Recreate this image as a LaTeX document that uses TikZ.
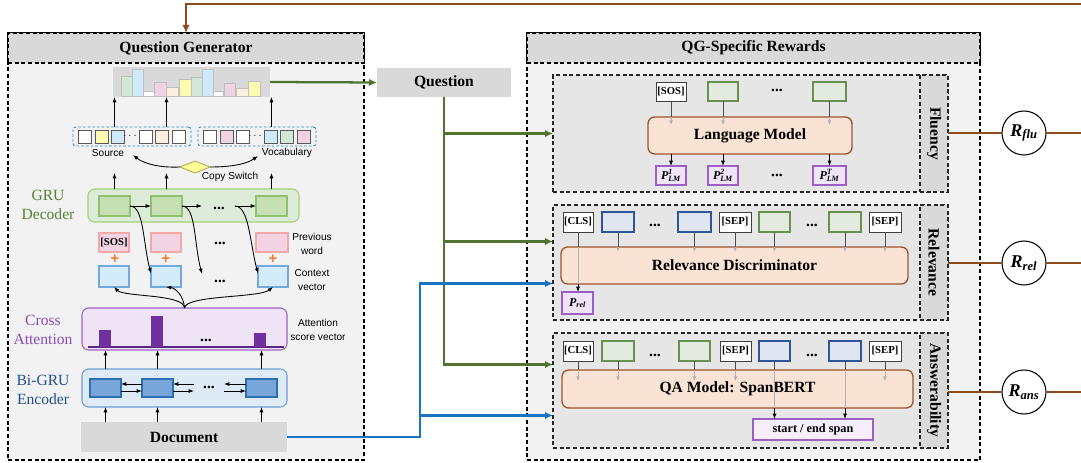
\documentclass[tikz,border=0pt]{standalone}
\usepackage{fontspec}
\usepackage{amsmath}
\setmainfont{Liberation Serif}
\newfontfamily\arialf{Liberation Sans}
\usetikzlibrary{arrows.meta,shapes.geometric,calc}
\definecolor{hdr}{HTML}{D9D9D9}
\definecolor{bodyg}{HTML}{F2F2F2}
\definecolor{subg}{HTML}{E6E6E6}
\definecolor{brownc}{HTML}{8E4B1E}
\definecolor{greenc}{HTML}{4F7331}
\definecolor{bluec}{HTML}{1A73C2}
\definecolor{dboxblue}{HTML}{2E86D1}
\definecolor{cellgray}{HTML}{595959}
\definecolor{cyell}{HTML}{FCF9B0}
\definecolor{cblue}{HTML}{CFE8FA}
\definecolor{cgreen}{HTML}{D2E7D5}
\definecolor{cpink}{HTML}{F0D3E3}
\definecolor{cpeach}{HTML}{FDEEE0}
\definecolor{gruf}{HTML}{DDEBD9}
\definecolor{gruc}{HTML}{A3D27A}
\definecolor{gcellf}{HTML}{C6E0B4}
\definecolor{gcellc}{HTML}{8FC16E}
\definecolor{pwf}{HTML}{F2D3E4}
\definecolor{pwc}{HTML}{F4A7A7}
\definecolor{cvf}{HTML}{D4EBFB}
\definecolor{cvc}{HTML}{72A9DA}
\definecolor{attf}{HTML}{EFE3F6}
\definecolor{attc}{HTML}{9C62C4}
\definecolor{attbar}{HTML}{7030A0}
\definecolor{encf}{HTML}{DEEBF7}
\definecolor{encc}{HTML}{6F9CD3}
\definecolor{ecellf}{HTML}{78A6DA}
\definecolor{ecellc}{HTML}{2E6EB5}
\definecolor{gtokf}{HTML}{E2EBDD}
\definecolor{gtokc}{HTML}{6A8F52}
\definecolor{btokf}{HTML}{DFE6F1}
\definecolor{btokc}{HTML}{2F5597}
\definecolor{purpf}{HTML}{F0E4F8}
\definecolor{purpc}{HTML}{9B5FC6}
\definecolor{modelf}{HTML}{F8E3D4}
\definecolor{modelc}{HTML}{A0522D}
\definecolor{copyf}{HTML}{FFFF99}
\definecolor{copyc}{HTML}{A6A64D}
\definecolor{grutxt}{HTML}{548235}
\definecolor{atttxt}{HTML}{8A4DBA}
\definecolor{enctxt}{HTML}{24508F}
\definecolor{plusc}{HTML}{ED7D31}
\newcommand\myfT{\fontsize{11.7}{13}\selectfont\bfseries}
\newcommand\myfL{\fontsize{11.7}{14.3}\selectfont}
\newcommand\myfS{\arialf\fontsize{7.6}{10}\selectfont}
\newcommand\myfK{\fontsize{8}{9}\selectfont\bfseries}
\newcommand\myP[1]{{\fontsize{9}{10}\selectfont\bfseries\itshape P$^{\text{\bfseries\itshape #1}}_{\text{\bfseries\itshape LM}}$}}
\newcommand\mybox[7]{\node[#6, minimum width={(#4-#2)*0.75pt}, minimum height={(#5-#3)*0.75pt}] (#1) at ({(#2+#4)/2},{(#3+#5)/2}) {#7};}
\newcommand\tokarr[3]{\draw[darkl] (#1.south) -- (#1.south |- #2.north); \draw[lightarr] (#1.south |- #2.north) -- ++(0,#3);}
\tikzset{
  every node/.style={inner sep=0pt, outer sep=0pt},
  outerbody/.style={draw=black, fill=bodyg, line width=0.8pt, dash pattern=on 3pt off 2pt},
  hdrbox/.style={outerbody, fill=hdr, font=\myfT},
  subbox/.style={draw=black!85, fill=subg, line width=0.8pt, dash pattern=on 3pt off 2pt},
  strip/.style={subbox, fill=hdr},
  graybox/.style={fill=hdr, font=\myfT},
  dbox/.style={draw=dboxblue, dash pattern=on 2pt off 1.5pt, rounded corners=2pt, line width=0.7pt},
  cell/.style={draw=cellgray, line width=0.7pt, minimum size=9.75pt},
  barl/.style={draw=black!25, line width=0.5pt},
  gcell/.style={draw=gcellc, fill=gcellf, line width=0.8pt},
  pw/.style={draw=pwc, fill=pwf, line width=0.8pt, font=\myfK},
  cv/.style={draw=cvc, fill=cvf, line width=0.8pt},
  ecell/.style={draw=ecellc, fill=ecellf, line width=0.8pt},
  tok/.style={draw=black!75, fill=white, line width=0.7pt, font=\myfK},
  gtok/.style={draw=gtokc, fill=gtokf, line width=0.8pt},
  btok/.style={draw=btokc, fill=btokf, line width=0.8pt},
  ptok/.style={draw=purpc, fill=purpf, line width=0.9pt},
  model/.style={draw=modelc, fill=modelf, rounded corners=5pt, line width=1pt, font=\myfT},
  arr/.style={-{Latex[length=4pt,width=3pt]}, black, line width=0.65pt},
  darkl/.style={draw=black!70, line width=0.65pt},
  lightarr/.style={draw=black!30, line width=0.65pt, -{Latex[length=3.5pt,width=3pt]}},
  lightl/.style={draw=black!30, line width=0.65pt},
  greenarr/.style={draw=greenc, line width=1.7pt, -{Latex[length=6pt,width=5.5pt]}},
  bluearr/.style={draw=bluec, line width=1.7pt, -{Latex[length=6pt,width=5.5pt]}},
  brownl/.style={draw=brownc, line width=1.8pt},
  dots/.style={font=\myfT},
  plus/.style={text=plusc, font=\arialf\bfseries\fontsize{11}{11}\selectfont},
  side/.style={rotate=-90, font=\myfT},
  rew/.style={circle, draw=black, fill=white, line width=0.8pt, minimum size=33pt, font=\fontsize{13.5}{14}\selectfont\bfseries\itshape},
}
\begin{document}
\begin{tikzpicture}[x=0.75pt,y=-0.75pt]
\useasboundingbox (0,0) rectangle (1081,463);
% ================= Question Generator =================
\mybox{qg}{8}{33}{364}{460}{outerbody}{}
\mybox{qgh}{8}{33}{364}{63}{hdrbox}{Question Generator}
% output distribution
\mybox{dist}{113}{67}{270}{97}{fill=hdr}{}
\foreach \a/\b/\t/\c in {121/132/76/cgreen,132/143/69/cblue,143/154/91/white,154/166/82/cpink,166/178/87/cpeach,179/191/79/cyell,191/202/77/cgreen,202/213/69/cblue,213/223/91/white,224/235/83/cpink,236/248/88/cpeach,248/260/81/cyell}
  \draw[barl, fill=\c] (\a,96) rectangle (\b,\t);
% source / vocabulary
\mybox{src}{73}{127}{191}{146}{dbox}{}
\mybox{voc}{198}{127}{316}{146}{dbox}{}
\foreach \a/\c [count=\i] in {78/white,95/cyell,111/cblue,139/white,155/cpeach,172/white}
  \node[cell, fill=\c] (s\i) at (\a+6.5,137) {};
\foreach \a/\c [count=\i] in {203/white,220/cpink,236/white,264/cblue,280/cgreen,297/cpink}
  \node[cell, fill=\c] (v\i) at (\a+6.5,137) {};
\node[font=\myfS] (sdots) at (131,136) {$\cdots$};
\node[font=\myfS] (vdots) at (256,136) {$\cdots$};
\node[font=\myfS] (srcl) at (108,153) {Source};
\node[font=\myfS] (vocl) at (287,153) {Vocabulary};
% copy switch
\node[diamond, draw=copyc, fill=copyf, line width=0.6pt, minimum width=22.5pt, minimum height=9pt, aspect=2.5] (cs) at (195,167) {};
\node[font=\myfS] (csl) at (230,177) {Copy Switch};
\coordinate (srcend) at (133,155);
\coordinate (vocend) at (258,156);
\draw[arr] (cs.west) .. controls +(-22,1) and +(10,8) .. (srcend);
\draw[arr] (cs.east) .. controls +(25,0) and +(-10,7) .. (vocend);
% GRU decoder
\mybox{gru}{88}{189}{299}{222}{draw=gruc, fill=gruf, rounded corners=5pt, line width=0.8pt}{}
\mybox{dc1}{99}{196}{130}{216}{gcell}{}
\mybox{dc2}{151}{196}{182}{216}{gcell}{}
\mybox{dc3}{256}{196}{287}{216}{gcell}{}
\node[dots] (gdots) at (219,208) {...};
\coordinate (gd1) at (202,206);
\coordinate (gd2) at (235,206);
\node[font=\myfL, text=grutxt, align=center] (grul) at (48,205) {GRU\\Decoder};
% previous word
\mybox{pw1}{99}{233}{129}{252}{pw}{[SOS]}
\mybox{pw2}{151}{233}{181}{252}{pw}{}
\mybox{pw3}{256}{233}{288}{252}{pw}{}
\node[dots] (pdots) at (220,243) {...};
\node[font=\myfS, align=center] (pwl) at (312,244) {Previous\\word};
\node[plus] (p1) at (115,259) {+};
\node[plus] (p2) at (166,259) {+};
\node[plus] (p3) at (273,259) {+};
% context vectors
\mybox{cv1}{99}{266}{129}{287}{cv}{}
\mybox{cv2}{151}{266}{181}{287}{cv}{}
\mybox{cv3}{258}{266}{288}{287}{cv}{}
\node[dots] (cdots) at (220,281) {...};
\coordinate (cd1) at (202,274);
\node[font=\myfS, align=center] (cvl) at (312,280) {Context\\vector};
% cross attention
\mybox{att}{82}{308}{287}{350}{draw=attc, fill=attf, rounded corners=5pt, line width=0.8pt}{}
\draw[attbar!80!black, line width=0.8pt] (88,347) -- (284,347);
\fill[attbar] (99,347) rectangle (111,330);
\fill[attbar] (151,347) rectangle (163,316);
\fill[attbar] (254,347) rectangle (266,333);
\node[dots] (adots) at (206,340) {...};
\node[font=\myfL, text=atttxt, align=center] (attl) at (43,330) {Cross\\Attention};
\node[font=\myfS, align=center] (attsl) at (318,330) {Attention\\score vector};
% encoder
\mybox{enc}{82}{369}{287}{407}{draw=encc, fill=encf, rounded corners=5pt, line width=0.8pt}{}
\mybox{ec1}{90}{379}{121}{397}{ecell}{}
\mybox{ec2}{142}{379}{173}{397}{ecell}{}
\mybox{ec3}{246}{379}{277}{397}{ecell}{}
\node[dots] (edots) at (209,387) {...};
\coordinate (ed1) at (194,388);
\coordinate (ed2) at (224,388);
\node[font=\myfL, text=enctxt, align=center] (encl) at (43,390) {Bi-GRU\\Encoder};
% document
\mybox{doc}{81}{422}{287}{452}{graybox}{Document}
% --- connectors inside QG
\foreach \c in {ec1,ec2,ec3} {
  \draw[arr] (doc.north -| \c) -- (enc.south -| \c);
  \draw[arr] (enc.north -| \c) -- (att.south -| \c);
}
\draw[arr] ($(ec2.west)+(0,-4)$) -- ($(ec1.east)+(0,-4)$);
\draw[arr] ($(ec1.east)+(0,3)$) -- ($(ec2.west)+(0,3)$);
\draw[arr] ($(ed1)+(0,-4)$) -- ($(ec2.east)+(0,-4)$);
\draw[arr] ($(ec2.east)+(0,3)$) -- ($(ed1)+(0,3)$);
\draw[arr] ($(ec3.west)+(0,-4)$) -- ($(ed2)+(0,-4)$);
\draw[arr] ($(ed2)+(0,3)$) -- ($(ec3.west)+(0,3)$);
% attention to context
\draw[arr] (att.north) .. controls +(0,-14) and +(10,10) .. (cv1.south);
\draw[arr] (att.north) .. controls +(-1,-13) and +(9,1) .. (cv2.south);
\draw[arr] (att.north) .. controls +(1,-13) and +(-14,11) .. (cv3.south);
% decoder
\draw[arr] (dc1.east) -- (dc2.west);
\draw[arr] (dc2.east) -- (gd1);
\draw[arr] (gd2) -- (dc3.west);
\draw[arr] (dc1.east) .. controls +(14,0) and +(-8,-30) .. ($(cv2.west)+(0,-3)$);
\draw[arr] (dc2.east) .. controls +(14,0) and +(-8,-30) .. (cd1);
\draw[arr] (gd2) .. controls +(14,0) and +(-8,-30) .. ($(cv3.west)+(0,-3)$);
\foreach \c in {dc1,dc2,dc3}
  \draw[arr] (gru.north -| \c) -- ++(0,-16);
\draw[arr] (src.north -| dc1) -- (dist.south -| dc1);
\draw[arr] (src.north -| dc2) -- (dist.south -| dc2);
\draw[arr] (voc.north -| dc3) -- (dist.south -| dc3);
% ================= Question =================
\mybox{q}{377}{68}{511}{97}{graybox}{Question}
% ================= QG-Specific Rewards =================
\mybox{qgs}{527}{33}{980}{460}{outerbody}{}
\mybox{qgsh}{527}{33}{980}{63}{hdrbox}{QG-Specific Rewards}
\mybox{flu}{553}{75}{948}{192}{subbox}{}
\mybox{fls}{920}{75}{948}{192}{strip}{}
\node[side] (flut) at (fls.center) {Fluency};
\mybox{rel}{553}{205}{948}{320}{subbox}{}
\mybox{rls}{920}{205}{948}{320}{strip}{}
\node[side] (relt) at (rls.center) {Relevance};
\mybox{ans}{553}{333}{948}{448}{subbox}{}
\mybox{anss}{920}{333}{948}{448}{strip}{}
\node[side] (anst) at (anss.center) {Answerability};
% fluency content
\mybox{lm}{648}{117}{852}{154}{model}{Language Model}
\mybox{fsos}{656}{82}{686}{101}{tok}{[SOS]}
\mybox{fg1}{708}{82}{738}{101}{gtok}{}
\mybox{fg2}{813}{82}{846}{101}{gtok}{}
\node[dots] (fdots1) at (777,90) {...};
\mybox{fp1}{656}{166}{686}{185}{ptok}{\myP{1}}
\mybox{fp2}{708}{166}{738}{185}{ptok}{\myP{2}}
\mybox{fp3}{813}{166}{846}{185}{ptok}{\myP{T}}
\node[dots] (fdots2) at (777,175) {...};
\foreach \t/\p in {fsos/fp1,fg1/fp2,fg2/fp3} {
  \tokarr{\t}{lm}{8}
  \draw[arr] (lm.south -| \t) -- (\p.north);
}
% relevance content
\mybox{rd}{561}{247}{908}{284}{model}{Relevance Discriminator}
\mybox{rc}{563}{212}{593}{232}{tok}{[CLS]}
\mybox{rb1}{602}{212}{634}{232}{btok}{}
\mybox{rb2}{678}{212}{711}{232}{btok}{}
\mybox{rs1}{719}{212}{751}{232}{tok}{[SEP]}
\mybox{rg1}{759}{212}{790}{232}{gtok}{}
\mybox{rg2}{829}{212}{861}{232}{gtok}{}
\mybox{rs2}{869}{212}{901}{232}{tok}{[SEP]}
\node[dots] (rdots1) at (655,225) {...};
\node[dots] (rdots2) at (812,225) {...};
\foreach \t in {rb1,rb2,rs1,rg1,rg2,rs2} { \tokarr{\t}{rd}{5} }
\mybox{prel}{562}{292}{593}{314}{ptok}{{\fontsize{9}{10}\selectfont\bfseries\itshape P$_{\text{\bfseries\itshape rel}}$}}
\draw[darkl] (rc.south) -- (rc.south |- rd.north);
\draw[lightl] (rc.south |- rd.north) -- (rc.south |- rd.south);
\draw[arr] (rc.south |- rd.south) -- (rc.south |- prel.north);
% answerability content
\mybox{qa}{562}{370}{913}{408}{model}{QA Model: SpanBERT}
\mybox{ac}{563}{341}{593}{361}{tok}{[CLS]}
\mybox{ag1}{602}{341}{634}{361}{gtok}{}
\mybox{ag2}{679}{341}{710}{361}{gtok}{}
\mybox{as1}{720}{341}{751}{361}{tok}{[SEP]}
\mybox{ab1}{759}{341}{790}{361}{btok}{}
\mybox{ab2}{829}{341}{861}{361}{btok}{}
\mybox{as2}{869}{341}{901}{361}{tok}{[SEP]}
\node[dots] (adots1) at (655,355) {...};
\node[dots] (adots2) at (812,355) {...};
\foreach \t in {ac,ag1,ag2,as1,as2} { \tokarr{\t}{qa}{11} }
\mybox{span}{753}{419}{873}{440}{ptok, fill=purpf!60!white, font=\fontsize{9.2}{10}\selectfont\bfseries}{start / end span}
\foreach \t in {ab1,ab2} {
  \draw[darkl] (\t.south) -- (\t.south |- qa.north);
  \draw[lightl] (\t.south |- qa.north) -- (\t.south |- qa.south);
  \draw[arr] (\t.south |- qa.south) -- (\t.south |- span.north);
}
% rewards
\node[rew] (rflu) at (1024,133) {R\textsubscript{flu}};
\node[rew] (rrel) at (1024,263) {R\textsubscript{rel}};
\node[rew] (rans) at (1024,392) {R\textsubscript{ans}};
\coordinate (re) at (1081,4);
\draw[brownl] (fls.east |- rflu) -- (rflu.west);
\draw[brownl] (rls.east |- rrel) -- (rrel.west);
\draw[brownl] (anss.east |- rans) -- (rans.west);
\draw[brownl] (rflu.east) -- (rflu.east -| re);
\draw[brownl] (rrel.east) -- (rrel.east -| re);
\draw[brownl] (rans.east) -- (rans.east -| re);
\draw[brownl, -{Latex[length=6pt,width=5.5pt]}] (re) -| (qgh.north);
% green (question) connectors
\draw[greenarr] (dist.east) -- (q.west);
\draw[greenarr] (q.south) |- ($(ans.west)+(0,-26)$);
\draw[greenarr] (q.south |- flu.west) -- (flu.west);
\draw[greenarr] ($(q.south |- rel.west)+(0,-21)$) -- ($(rel.west)+(0,-21)$);
% blue (document) connectors
\coordinate (bx) at (420,439);
\draw[bluearr] (doc.east) -- (doc.east -| bx) |- ($(rel.west)+(0,21)$);
\draw[bluearr] ($(bx |- ans.west)+(0,25)$) -- ($(ans.west)+(0,25)$);
\end{tikzpicture}
\end{document}
